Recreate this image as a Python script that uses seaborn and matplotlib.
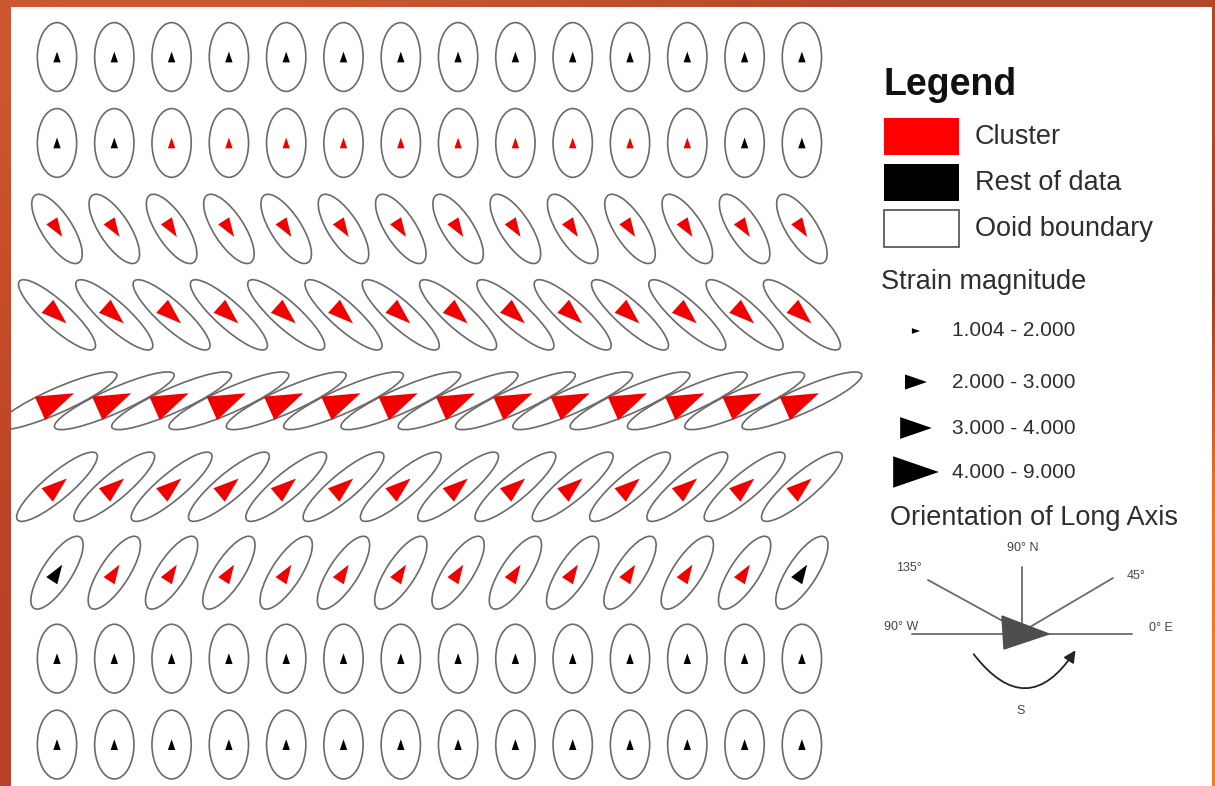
import numpy as np
import pandas as pd
import matplotlib
matplotlib.use("Agg")
import matplotlib.pyplot as plt
import seaborn as sns
from matplotlib.patches import Ellipse, Rectangle, Polygon, FancyArrowPatch
from matplotlib.markers import MarkerStyle
from matplotlib.path import Path
from matplotlib.transforms import Affine2D

# ---------------------------------------------------------------- data
n_rows, n_cols = 9, 14
col_spacing, row_spacing = 1.0, 1.5

# long-axis orientation of each row (deg, counter-clockwise from east)
row_orientation = [90, 90, -57, -42, 24, 40, 57, 90, 90]
# strain magnitude of each row (long / short axis ratio)
row_strain = [1.75, 1.75, 2.65, 3.8, 5.3, 3.9, 2.9, 1.75, 1.75]
# long semi-axis of the ooids in each row (grid units)
row_semi_major = [0.60, 0.60, 0.70, 0.88, 1.14, 0.90, 0.74, 0.60, 0.60]

# 1 = member of the strain cluster, 0 = rest of data
cluster = [
    [0, 0, 0, 0, 0, 0, 0, 0, 0, 0, 0, 0, 0, 0],
    [0, 0, 1, 1, 1, 1, 1, 1, 1, 1, 1, 1, 0, 0],
    [1, 1, 1, 1, 1, 1, 1, 1, 1, 1, 1, 1, 1, 1],
    [1, 1, 1, 1, 1, 1, 1, 1, 1, 1, 1, 1, 1, 1],
    [1, 1, 1, 1, 1, 1, 1, 1, 1, 1, 1, 1, 1, 1],
    [1, 1, 1, 1, 1, 1, 1, 1, 1, 1, 1, 1, 1, 1],
    [0, 1, 1, 1, 1, 1, 1, 1, 1, 1, 1, 1, 1, 0],
    [0, 0, 0, 0, 0, 0, 0, 0, 0, 0, 0, 0, 0, 0],
    [0, 0, 0, 0, 0, 0, 0, 0, 0, 0, 0, 0, 0, 0],
]

strain_bins = [1.004, 2.0, 3.0, 4.0, 9.0]
strain_labels = ["1.004 - 2.000", "2.000 - 3.000", "3.000 - 4.000", "4.000 - 9.000"]
group_labels = ["Cluster", "Rest of data", "Ooid boundary"]
compass_labels = ["90° N", "135°", "45°", "90° W", "0° E", "S"]

# ---------------------------------------------------------------- table
records = []
for r in range(n_rows):
    for c in range(n_cols):
        records.append({
            "x": c * col_spacing,
            "y": r * row_spacing,
            "orientation": row_orientation[r],
            "strain": row_strain[r],
            "semi_major": row_semi_major[r],
            "group": group_labels[0] if cluster[r][c] else group_labels[1],
        })
df = pd.DataFrame(records)
df["strain_class"] = pd.cut(df["strain"], bins=strain_bins, labels=strain_labels)

# ---------------------------------------------------------------- style
sns.set_theme(style="white")
plt.rcParams["font.family"] = ["Liberation Sans", "DejaVu Sans"]

RED = "#f20000"
palette = {group_labels[0]: RED, group_labels[1]: "#000000"}
# glyph areas on the map and (larger) in the legend key
size_map = dict(zip(strain_labels, [60, 190, 340, 720]))
legend_size_map = dict(zip(strain_labels, [35, 250, 520, 1080]))

# arrow-head glyph pointing east, rotated to the long-axis direction
arrow_path = Path([(0.8, 0.0), (-0.8, 0.55), (-0.8, -0.55), (0.8, 0.0)],
                  [Path.MOVETO, Path.LINETO, Path.LINETO, Path.CLOSEPOLY])


def arrow_marker(angle):
    return MarkerStyle(arrow_path, transform=Affine2D().rotate_deg(angle))


marker_map = {a: arrow_marker(a) for a in sorted(set(row_orientation))}

W, H = 1215, 786
fig = plt.figure(figsize=(W / 100, H / 100), dpi=100)

# ---------------------------------------------------------------- frame
bg = fig.add_axes([0, 0, 1, 1], zorder=0)
bg.set_xlim(0, W)
bg.set_ylim(H, 0)
bg.axis("off")
corner = np.array([
    [[0.80, 0.34, 0.18], [0.70, 0.28, 0.17]],
    [[0.77, 0.30, 0.16], [0.64, 0.25, 0.16]],
    [[0.74, 0.27, 0.16], [0.91, 0.45, 0.17]],
    [[0.72, 0.26, 0.16], [0.94, 0.49, 0.18]],
])
bg.imshow(corner, extent=(0, W, H, 0), aspect="auto", interpolation="bilinear", zorder=0)
bg.add_patch(Rectangle((11, 7), 1201, 779, facecolor="white", edgecolor="none", zorder=1))

# ---------------------------------------------------------------- ooid grid
px_per_unit = 57.3
box_l, box_r, box_t, box_b = 11, 870, 7, 786
origin_x, origin_y = 57, 57
ax = fig.add_axes([box_l / W, (H - box_b) / H, (box_r - box_l) / W, (box_b - box_t) / H], zorder=2)
ax.patch.set_alpha(0)
x0 = -(origin_x - box_l) / px_per_unit
y0 = -(origin_y - box_t) / px_per_unit
xlim = (x0, x0 + (box_r - box_l) / px_per_unit)
ylim = (y0 + (box_b - box_t) / px_per_unit, y0)

for _, row in df.iterrows():
    a = row["semi_major"]
    b = a / row["strain"]
    ax.add_patch(Ellipse((row["x"], row["y"]), 2 * a, 2 * b,
                         angle=-row["orientation"], fill=False,
                         edgecolor="#6a6a6a", linewidth=1.2, zorder=2))

sns.scatterplot(data=df, x="x", y="y", hue="group", palette=palette,
                size="strain_class", sizes=size_map,
                style="orientation", markers=marker_map,
                linewidth=0, legend=False, ax=ax, zorder=3)
ax.set_xlim(*xlim)
ax.set_ylim(*ylim)
ax.axis("off")

# ---------------------------------------------------------------- legend
txt = "#2e2e2e"
bg.text(883, 95, "Legend", fontsize=27, fontweight="bold", color="#111111",
        va="baseline", ha="left", zorder=3)
swatches = [dict(fc="#ff0000", ec="none"), dict(fc="#000000", ec="none"),
            dict(fc="white", ec="#5a5a5a")]
for i, (lab, sw) in enumerate(zip(group_labels, swatches)):
    y = 118 + 46 * i
    bg.add_patch(Rectangle((884, y), 75, 37, facecolor=sw["fc"], edgecolor=sw["ec"],
                           linewidth=1.3, zorder=3))
    bg.text(975, y + 19, lab, fontsize=19.5, color=txt, va="center", ha="left", zorder=3)

bg.text(881, 282, "Strain magnitude", fontsize=19.5, color=txt, va="center", ha="left", zorder=3)
leg_y = [331, 382, 428, 472]
leg_df = pd.DataFrame({"x": [916] * 4, "y": leg_y, "strain_class": strain_labels})
sns.scatterplot(data=leg_df, x="x", y="y", size="strain_class", sizes=legend_size_map,
                marker=arrow_marker(0), color="#000000", linewidth=0,
                legend=False, ax=bg, zorder=3)
bg.set_xlim(0, W)
bg.set_ylim(H, 0)
bg.axis("off")
for lab, y in zip(strain_labels, leg_y):
    bg.text(952, y, lab, fontsize=15, color=txt, va="center", ha="left", zorder=3)

bg.text(890, 518, "Orientation of Long Axis", fontsize=19.5, color=txt,
        va="center", ha="left", zorder=3)

# compass of long-axis orientation
lc = "#6a6a6a"
for (xa, ya), (xb, yb) in [((912, 634), (1132, 634)), ((1022, 567), (1022, 634)),
                           ((928, 580), (1010, 625)), ((1030, 627), (1113, 578))]:
    bg.plot([xa, xb], [ya, yb], color=lc, linewidth=1.3, zorder=3)
bg.add_patch(Polygon([(1002, 616), (1049, 634), (1004, 649)], closed=True,
                     facecolor="#4e4e4e", edgecolor="#4e4e4e", zorder=4))
bg.add_patch(FancyArrowPatch((972, 652), (1077, 648), connectionstyle="arc3,rad=0.72",
                             arrowstyle="-|>,head_length=7,head_width=3.5",
                             color="#222222", linewidth=1.3, zorder=4))
small = dict(fontsize=9, color="#444444", va="center", ha="center", zorder=3)
for lab, (xt, yt) in zip(compass_labels,
                         [(1023, 548), (909, 568), (1136, 576),
                          (901, 627), (1161, 628), (1021, 711)]):
    bg.text(xt, yt, lab, **small)

fig.savefig("out.png", dpi=100)
